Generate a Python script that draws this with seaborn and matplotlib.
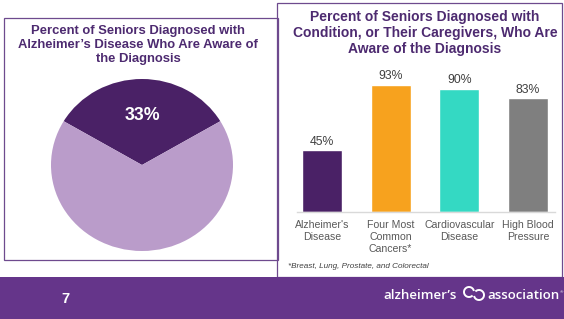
import matplotlib
matplotlib.use("Agg")
import matplotlib.pyplot as plt
from matplotlib.patches import Rectangle, Arc
import pandas as pd
import seaborn as sns

# data
pie_labels = ["Aware", "Not aware"]
pie_values = [33, 67]
bar_categories = ["Alzheimer's\nDisease", "Four Most\nCommon\nCancers*", "Cardiovascular\nDisease", "High Blood\nPressure"]
bar_values = [45, 93, 90, 83]
bar_colors = ["#4a2166", "#f7a21e", "#34d9c3", "#7f7f7f"]
pie_colors = ["#4a2166", "#ba9cca"]

W, H = 564, 319
TITLE_COLOR = "#4d2a70"
BORDER = "#6e4a8e"


def fx(x):
    return x / W


def fy(y):
    return 1 - y / H


sns.set_style("white")
plt.rcParams["font.family"] = ["Liberation Sans", "DejaVu Sans"]

fig = plt.figure(figsize=(W / 100, H / 100), dpi=100)
fig.patch.set_facecolor("white")

# panel frames and footer band
fig.patches.append(Rectangle((fx(4), fy(260)), fx(278) - fx(4), fy(18) - fy(260),
                             transform=fig.transFigure, fill=False, ec=BORDER, lw=0.9))
fig.patches.append(Rectangle((fx(277), fy(277)), fx(562) - fx(277), fy(3) - fy(277),
                             transform=fig.transFigure, fill=False, ec=BORDER, lw=0.9))
fig.patches.append(Rectangle((0, 0), 1, fy(277), transform=fig.transFigure,
                             fc="#65358a", ec="none"))

# ---- left: pie ----
cx, cy, rx, ry = 142, 165, 91, 86
ax1 = fig.add_axes([fx(cx - rx), fy(cy + ry), 2 * rx / W, 2 * ry / H])
half = pie_values[0] / 100 * 180
ax1.pie(pie_values, colors=pie_colors, startangle=90 - half, counterclock=True,
        wedgeprops=dict(linewidth=0))
ax1.set_aspect("auto")
ax1.set_xlim(-1, 1)
ax1.set_ylim(-1, 1)
ax1.axis("off")
ax1.text(0, 0.58, f"{pie_values[0]}%", color="white", fontsize=12.8,
         fontweight="bold", ha="center", va="center")

fig.text(fx(138), fy(45), "Percent of Seniors Diagnosed with\nAlzheimer\u2019s Disease Who Are Aware of\nthe Diagnosis",
         ha="center", va="center", fontsize=9.4, fontweight="bold",
         color=TITLE_COLOR, linespacing=1.19)

# ---- right: bars ----
x0, x1 = 297, 555
base, top = 212, 75
ax2 = fig.add_axes([fx(x0), fy(base), (x1 - x0) / W, (base - top) / H])
df = pd.DataFrame({"category": bar_categories, "value": bar_values})
sns.barplot(data=df, x="category", y="value", hue="category", palette=bar_colors,
            legend=False, width=0.58, ax=ax2, saturation=1)
ax2.set_ylim(0, 100)
ax2.set_xlim(-0.36, 3.39)
ax2.set_xlabel("")
ax2.set_ylabel("")
ax2.set_yticks([])
for s in ["top", "right", "left"]:
    ax2.spines[s].set_visible(False)
ax2.spines["bottom"].set_color("#d9d9d9")
ax2.spines["bottom"].set_linewidth(1.0)
ax2.tick_params(axis="x", length=0, pad=5.5, labelsize=7.6, labelcolor="#595959")
for lab in ax2.get_xticklabels():
    lab.set_linespacing(1.3)
for p, v in zip(ax2.patches, bar_values):
    ax2.annotate(f"{v}%", (p.get_x() + p.get_width() / 2, p.get_height()),
                 xytext=(0, 2), textcoords="offset points", ha="center", va="bottom",
                 fontsize=8.8, color="#404040")

fig.text(fx(425), fy(33), "Percent of Seniors Diagnosed with\nCondition, or Their Caregivers, Who Are\nAware of the Diagnosis",
         ha="center", va="center", fontsize=10, fontweight="bold",
         color=TITLE_COLOR, linespacing=1.2)
fig.text(fx(288), fy(267), "*Breast, Lung, Prostate, and Colorectal", ha="left", va="center",
         fontsize=5.9, style="italic", color="#404040")

# ---- footer ----
fig.text(fx(65), fy(299), "7", color="white", fontsize=10.5, fontweight="bold",
         ha="center", va="center")
fig.text(fx(457), fy(299), "alzheimer\u2019s", color="white", fontsize=9.5,
         fontweight="semibold", family=["Open Sans", "DejaVu Sans"], ha="right", va="baseline")
fig.text(fx(487), fy(299), "association", color="white", fontsize=9.5,
         fontweight="semibold", family=["Open Sans", "DejaVu Sans"], ha="left", va="baseline")
fig.text(fx(561), fy(292), "\u00ae", color="white", fontsize=3.2, ha="center", va="center")
# logo symbol: two interlocking loops
for (lx, ly, a1, a2) in [(469, 292, 20, 300), (479, 295, 200, 480)]:
    fig.patches.append(Arc((fx(lx), fy(ly)), 10 / W, 10 / H, theta1=a1, theta2=a2,
                           transform=fig.transFigure, color="white", lw=1.4))

fig.savefig("out.png", dpi=100, facecolor=fig.get_facecolor())
